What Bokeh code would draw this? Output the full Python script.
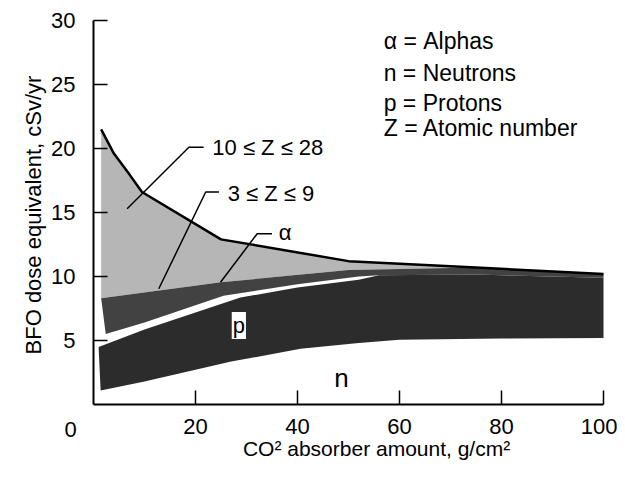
import math
from bokeh.plotting import figure
from bokeh.models import Range1d, FixedTicker, Label, LinearAxis
from bokeh.embed import file_html
from bokeh.resources import INLINE

# ---- data ----
# upper edge of the 10 <= Z <= 28 band (black outline)
top_x = [1.5, 4, 7, 9.5, 25, 50, 75, 100]
top_y = [21.5, 19.6, 18.0, 16.6, 12.9, 11.2, 10.7, 10.2]

# upper edge of the 3 <= Z <= 9 / alpha band
mid_top_x = [1.5, 25, 50, 75, 100]
mid_top_y = [8.3, 9.55, 10.5, 10.7, 10.2]

# lower edge of the 3 <= Z <= 9 / alpha band
mid_bot_x = [2.4, 10, 25.5, 40, 52, 56, 75, 100]
mid_bot_y = [5.5, 6.4, 8.5, 9.4, 10.0, 10.1, 10.15, 9.9]

# upper edge of the proton band
p_top_x = [1.0, 10, 28.8, 40, 52, 56, 75, 100]
p_top_y = [4.5, 5.85, 8.35, 9.15, 9.75, 10.1, 10.15, 9.9]

# lower edge of the proton band (neutrons below)
p_bot_x = [1.4, 10, 27, 40.6, 52, 60, 80, 100]
p_bot_y = [1.1, 1.8, 3.35, 4.35, 4.8, 5.05, 5.15, 5.2]

x_ticks = [20, 40, 60, 80, 100]
y_ticks = [5, 10, 15, 20, 25, 30]

legend_lines = ["\u03b1 = Alphas", "n = Neutrons", "p = Protons", "Z = Atomic number"]

# leader lines of the band labels
lead_heavy_x = [21.6, 18.7, 6.6]
lead_heavy_y = [20.1, 20.1, 15.3]
lead_light_x = [24.6, 22.0, 12.8]
lead_light_y = [16.6, 16.6, 9.04]
lead_alpha_x = [35.0, 32.1, 24.9]
lead_alpha_y = [13.34, 13.34, 9.55]

FONT = "Liberation Sans"
FS = "22px"

W, H = 617, 471
X0, Y0 = 93, 404          # pixel position of the origin
SX, SY = 5.1, 12.8        # pixels per data unit

p = figure(width=W, height=H, output_backend="svg", toolbar_location=None,
           x_range=Range1d(-X0 / SX, (W - X0) / SX),
           y_range=Range1d(-(H - Y0) / SY, Y0 / SY),
           x_axis_location=None, y_axis_location=None,
           min_border=0)
p.outline_line_color = None
p.grid.visible = False
p.background_fill_color = "white"
p.border_fill_color = "white"

# bands
p.patch(top_x + mid_top_x[::-1], top_y + mid_top_y[::-1],
        fill_color="#b6b6b6", line_color=None)
p.patch(mid_top_x + mid_bot_x[::-1], mid_top_y + mid_bot_y[::-1],
        fill_color="#424242", line_color=None)
p.patch(p_top_x + p_bot_x[::-1], p_top_y + p_bot_y[::-1],
        fill_color="#2c2c2c", line_color=None)
p.line(top_x, top_y, line_color="black", line_width=2.5)

# leaders
for lx, ly in [(lead_heavy_x, lead_heavy_y), (lead_light_x, lead_light_y),
               (lead_alpha_x, lead_alpha_y)]:
    p.line(lx, ly, line_color="black", line_width=1.5)

def lab(x, y, text, size=FS, align="left", baseline="middle", **kw):
    p.add_layout(Label(x=x, y=y, text=text, text_font=FONT, text_font_size=size,
                       text_align=align, text_baseline=baseline,
                       text_color="black", **kw))

lab(23.3, 20.04, "10 \u2264 Z \u2264 28")
lab(26.3, 16.48, "3 \u2264 Z \u2264 9")
lab(36.3, 13.47, "\u03b1")
lab(28.5, 6.17, "p", align="center",
    background_fill_color="white", padding=1)
lab(48.6, 2.05, "n", size="26px", align="center")

for txt, yc in zip(legend_lines, [28.37, 25.9, 23.55, 21.6]):
    lab(56.9, yc, txt, size="23px")

# corner "0" and axis titles
lab(-4.5, -1.93, "0", align="center")
lab(55.5, -3.45, "CO\u00b2 absorber amount, g/cm\u00b2", size="21px", align="center")
lab(-11.86, 14.8, "BFO dose equivalent, cSv/yr", align="center",
    angle=math.pi / 2)

xaxis = LinearAxis(fixed_location=0, bounds=(0, 100), ticker=FixedTicker(ticks=x_ticks))
yaxis = LinearAxis(fixed_location=0, bounds=(0, 30), ticker=FixedTicker(ticks=y_ticks))
for ax in (xaxis, yaxis):
    ax.axis_line_width = 2
    ax.major_tick_line_width = 1.5
    ax.major_tick_in = 14
    ax.major_tick_out = 0
    ax.minor_tick_line_color = None
    ax.major_label_text_font = FONT
    ax.major_label_text_font_size = FS
    ax.major_label_text_color = "black"
xaxis.major_label_standoff = 14
yaxis.major_label_standoff = 18
p.add_layout(xaxis, "below")
p.add_layout(yaxis, "left")

open("out.html", "w").write(file_html(p, INLINE))
